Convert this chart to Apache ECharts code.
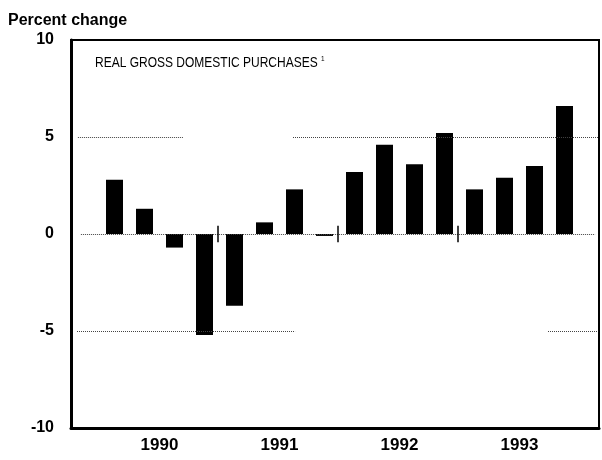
<!DOCTYPE html>
<html>
<head>
<meta charset="utf-8">
<script src="https://cdn.jsdelivr.net/npm/echarts@6/dist/echarts.min.js"></script>
<style>
html, body { margin: 0; padding: 0; background: #fff; }
#main { width: 602px; height: 460px; }
</style>
</head>
<body>
<div id="main"></div>
<script>
// quarterly data, 1990 Q1 .. 1993 Q4
var quarters = ['1990 Q1', '1990 Q2', '1990 Q3', '1990 Q4',
	'1991 Q1', '1991 Q2', '1991 Q3', '1991 Q4',
	'1992 Q1', '1992 Q2', '1992 Q3', '1992 Q4',
	'1993 Q1', '1993 Q2', '1993 Q3', '1993 Q4']
var purchases = [2.8, 1.3, -0.7, -5.2, -3.7, 0.6, 2.3, -0.1, 3.2, 4.6, 3.6, 5.2, 2.3, 2.9, 3.5, 6.6]
var years = ['1990', '1991', '1992', '1993']
var yTicks = [-10, -5, 0, 5, 10]

// dotted gridline pieces (value, from quarter index, to quarter index)
var gridPieces = [
	[5, -1.22, 2.28], [5, 5.95, 16.12],
	[0, -1.12, 16.02],
	[-5, -1.25, 6.02], [-5, 14.45, 16.12]
]

var font = "'Liberation Sans', Arial, Helvetica, sans-serif"

var marks = []
gridPieces.forEach(function (g) {
	var ls = { type: 'dotted', color: '#444', width: 1 }
	marks.push([{ coord: [g[1], g[0]], lineStyle: ls }, { coord: [g[2], g[0]], lineStyle: ls }])
})
// small year separators on the zero line
for (var k = 1; k < years.length; k++) {
	var xb = k * 4 - 0.55
	var ts = { type: 'solid', color: '#000', width: 1.5 }
	marks.push([{ coord: [xb, -0.42], lineStyle: ts }, { coord: [xb, 0.42], lineStyle: ts }])
}

var myChart = echarts.init(document.getElementById('main'))
var option = {
	animation: false,
	backgroundColor: '#fff',
	title: {
		text: 'Percent change',
		left: 3,
		top: 8,
		textStyle: { fontFamily: font, fontSize: 16, fontWeight: 'bold', color: '#000' }
	},
	graphic: [{
		type: 'text',
		left: 95,
		top: 55,
		scaleX: 0.8,
		style: {
			text: 'REAL GROSS DOMESTIC PURCHASES {sup|1}',
			fontFamily: font,
			fontSize: 15,
			fill: '#000',
			rich: { sup: { fontFamily: font, fontSize: 8, verticalAlign: 'top', padding: [0, 0, 8, 0] } }
		}
	}],
	grid: {
		left: 71,
		right: 3,
		top: 40,
		bottom: 32,
		show: true,
		borderColor: '#000',
		borderWidth: 2
	},
	xAxis: {
		type: 'value',
		min: -1.45,
		max: 16.15,
		axisLine: { show: true, onZero: false, lineStyle: { color: '#000', width: 3 } },
		axisTick: { show: false },
		splitLine: { show: false },
		axisLabel: {
			customValues: [1.5, 5.5, 9.5, 13.5],
			formatter: function (v) {
				return years[Math.round((v - 1.5) / 4)]
			},
			margin: 9,
			color: '#000',
			fontFamily: font,
			fontSize: 17,
			fontWeight: 'bold'
		}
	},
	yAxis: {
		type: 'value',
		min: yTicks[0],
		max: yTicks[yTicks.length - 1],
		interval: 5,
		axisLine: { show: true, onZero: false, lineStyle: { color: '#000', width: 3 } },
		axisTick: { show: false },
		splitLine: { show: false },
		axisLabel: {
			margin: 17,
			color: '#000',
			fontFamily: font,
			fontSize: 16,
			fontWeight: 'bold'
		}
	},
	series: [{
		name: 'Real gross domestic purchases',
		type: 'bar',
		barWidth: 17,
		itemStyle: { color: '#000' },
		data: purchases.map(function (v, i) { return [i, v] }),
		markLine: {
			silent: true,
			symbol: 'none',
			label: { show: false },
			data: marks
		}
	}]
}
myChart.setOption(option)
</script>
</body>
</html>
